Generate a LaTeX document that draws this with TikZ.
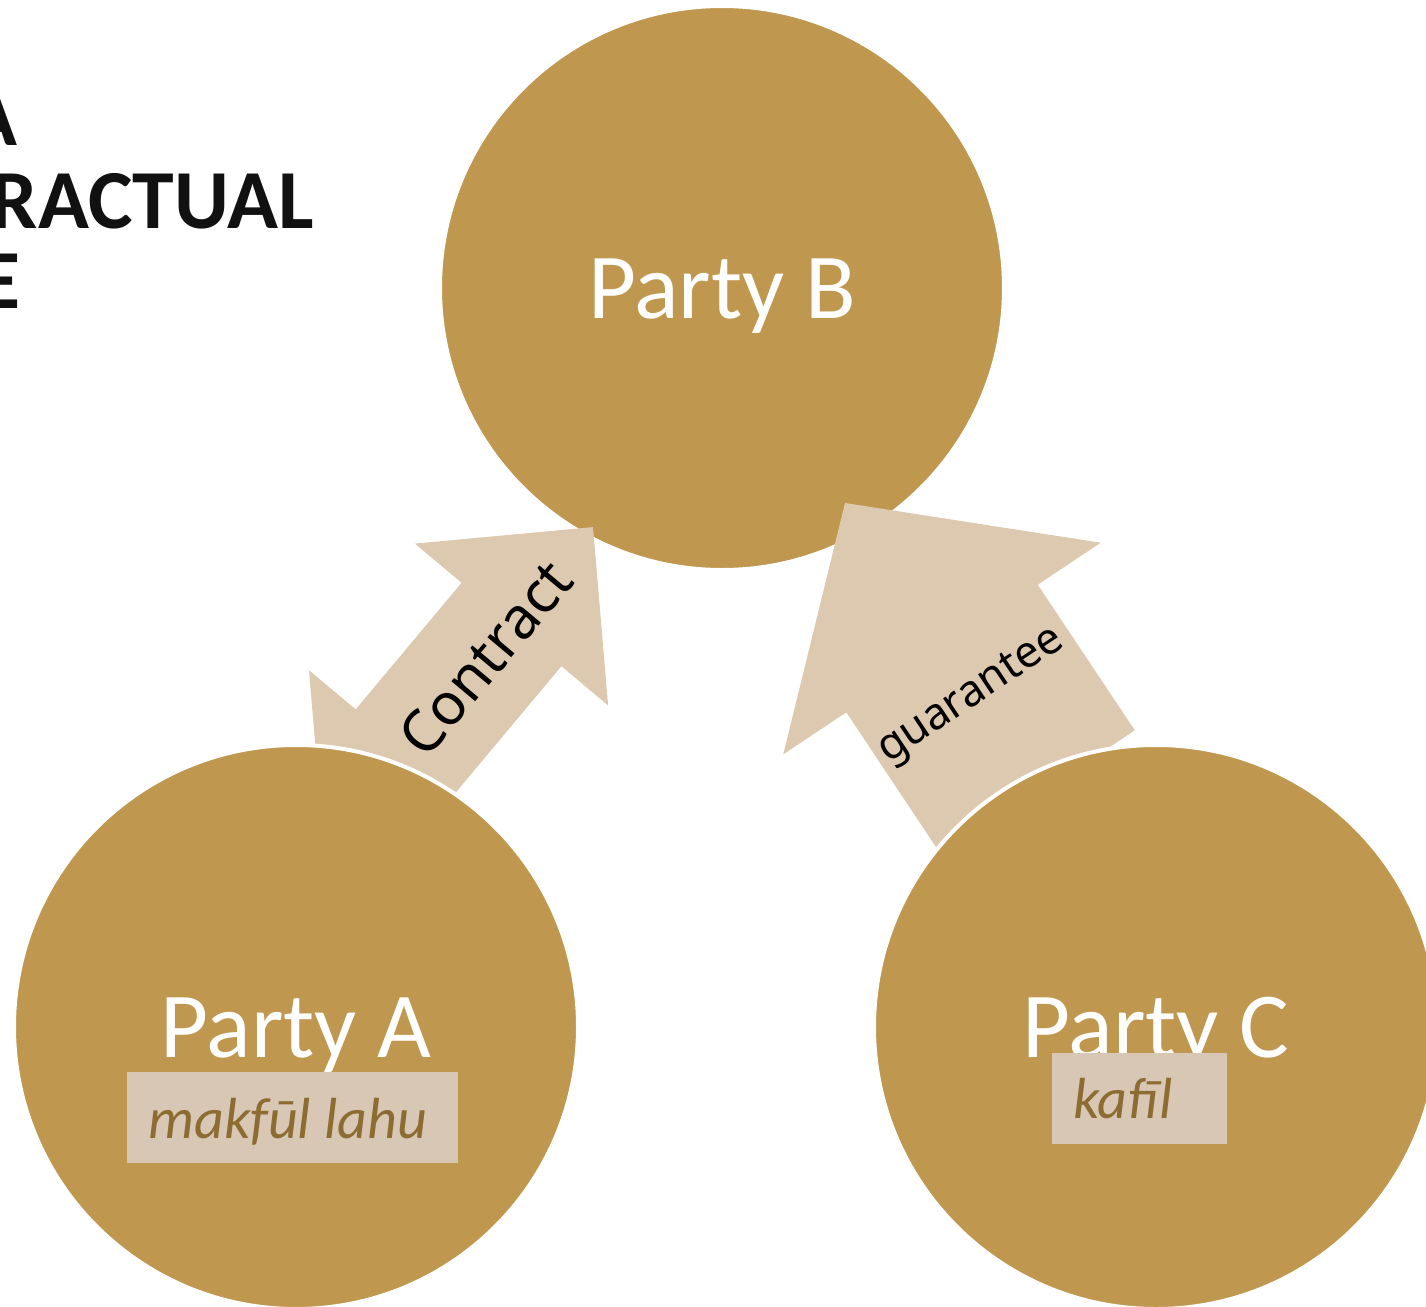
\documentclass[tikz,border=0pt]{standalone}
\usepackage{fontspec}
\setmainfont{Carlito}
\newfontfamily\arrowfont{Noto Sans}
\definecolor{gold}{RGB}{191,151,78}
\definecolor{arrowfill}{RGB}{220,201,176}
\definecolor{tagfill}{RGB}{216,199,180}
\definecolor{tagtext}{RGB}{140,108,48}
\definecolor{titletext}{RGB}{17,17,17}
\begin{document}
\begin{tikzpicture}[x=0.5pt,y=-0.5pt,
  party/.style={circle,fill=gold,draw=white,line width=2pt,minimum size=282pt,inner sep=0pt,
    text=white,font=\fontsize{46.5}{50}\selectfont,text height=30pt,text depth=0pt},
  bigarrow/.style={fill=arrowfill},
  arrowlabel/.style={font=\arrowfont,text=black,inner sep=0pt},
  tagbox/.style={fill=tagfill,inner sep=0pt},
  tagtxt/.style={text=tagtext,font=\fontsize{29}{31}\selectfont\itshape,inner sep=0pt,anchor=base west},
  titleline/.style={font=\fontsize{42}{44}\selectfont\bfseries,text=titletext,inner sep=0pt,anchor=base east}]
\useasboundingbox (0,0) rectangle (1426,1307);
% title (cut by the left edge)
\node[titleline] (t1) at (18,145) {A};
\node[titleline] (t2) at (314,228) {RACTUAL};
\node[titleline] (t3) at (21,308) {E};
% party B
\node[party] (B) at (722,288) {Party B};
% contract double arrow
\fill[bigarrow] (593,527.1) -- (608.1,705.4) -- (561.4,666.2) -- (455.5,792.8) -- (502.2,832)
  -- (324,848.5) -- (309,670.2) -- (355.7,709.4) -- (461.6,582.8) -- (414.9,543.6) -- cycle;
\node[arrowlabel,rotate=50,font=\arrowfont\fontsize{29}{31}\selectfont] (contract) at (485,658) {Contract};
% guarantee arrow
\fill[bigarrow] (845,503) -- (1100.7,542.7) -- (1037.7,584.7) -- (1134.7,730.3) -- (943.3,857.9)
  -- (846.3,712.3) -- (783.3,754.3) -- cycle;
\node[arrowlabel,rotate=33.7,font=\arrowfont\fontsize{22}{24}\selectfont] (guarantee) at (972,697) {guarantee};
% party A
\node[party] (A) at (296,1027) {Party A};
\node[tagbox,minimum width=165.5pt,minimum height=45.5pt] (Abox) at (292.5,1117.5) {};
\node[tagtxt] (Atag) at (148,1138) {makfūl lahu};
% party C
\node[party] (C) at (1156,1027) {Party C};
\node[tagbox,minimum width=87.5pt,minimum height=45.5pt] (Cbox) at (1139.5,1098.5) {};
\node[tagtxt] (Ctag) at (1073,1118) {kafīl};
\end{tikzpicture}
\end{document}
